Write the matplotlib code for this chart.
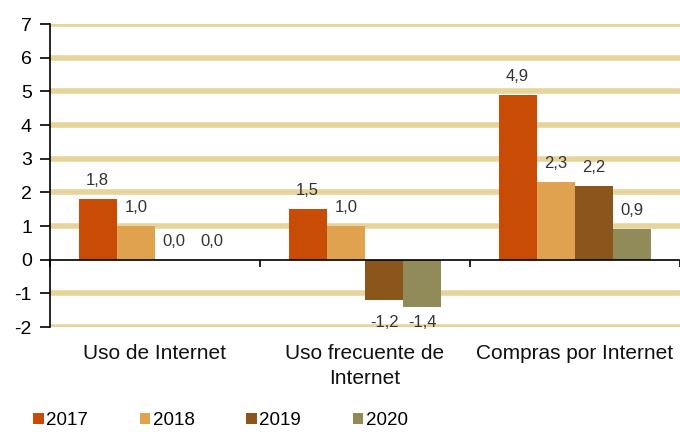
"""
Bar chart: variation in Internet use indicators by year.
"""
import numpy as np
import matplotlib.pyplot as plt

categories = ["Uso de Internet", "Uso frecuente de\nInternet", "Compras por Internet"]
years = ["2017", "2018", "2019", "2020"]
values = {
    "2017": [1.8, 1.5, 4.9],
    "2018": [1.0, 1.0, 2.3],
    "2019": [0.0, -1.2, 2.2],
    "2020": [0.0, -1.4, 0.9],
}
colors = ["#c94c06", "#e0a24e", "#8a561c", "#908b58"]

plt.rcParams["font.family"] = ["Liberation Sans", "DejaVu Sans"]
plt.rcParams["axes.unicode_minus"] = False


def fmt(v):
    return f"{v:.1f}".replace(".", ",")


def main():
    fig = plt.figure(figsize=(6.8, 4.32), dpi=100)
    ax = fig.add_axes([0.0735, 0.243, 0.9265, 0.701])

    x = np.arange(len(categories))
    width = 0.182
    offsets = (np.arange(len(years)) - 1.5) * width

    # lowest value per group, so negative labels share one baseline
    group_min = np.min([values[y] for y in years], axis=0)

    for year, off, col in zip(years, offsets, colors):
        vals = values[year]
        ax.bar(x + off, vals, width=width, color=col, label=year, zorder=3)
        for gi, (xi, v) in enumerate(zip(x + off, vals)):
            if v < 0:
                ax.annotate(fmt(v), (xi, group_min[gi]), xytext=(0, -6),
                            textcoords="offset points", ha="center", va="top",
                            fontsize=12, color="#333333")
            else:
                ax.annotate(fmt(v), (xi, v), xytext=(0, 8), textcoords="offset points",
                            ha="center", va="bottom", fontsize=12, color="#333333")

    ax.set_xlim(-0.5, len(categories) - 0.5)
    ax.set_ylim(-2, 7)
    yticks = list(range(-2, 8))
    ax.set_yticks(yticks)
    for t in yticks:
        if t != 0:
            ax.axhline(t, color="#e6d49a", linewidth=4, zorder=0)

    ax.spines["top"].set_visible(False)
    ax.spines["right"].set_visible(False)
    ax.spines["bottom"].set_position(("data", 0))
    ax.spines["bottom"].set_zorder(4)
    ax.spines["left"].set_linewidth(1.2)
    ax.spines["bottom"].set_linewidth(1.2)

    ax.set_xticks(np.arange(len(categories) + 1) - 0.5)
    ax.set_xticklabels([])
    ax.tick_params(axis="x", length=5, width=1.2, direction="out")
    ax.tick_params(axis="y", length=7, width=1.2, labelsize=14, pad=6)

    for xi, cat in zip(x, categories):
        ax.annotate(cat, (xi, -2), xytext=(0, -12), textcoords="offset points",
                    ha="center", va="top", fontsize=15, color="#111111",
                    linespacing=1.4, annotation_clip=False)

    fig.legend(loc="center left", bbox_to_anchor=(0.024, 0.026), ncol=4, frameon=False,
               fontsize=13.5, handlelength=0.55, handleheight=0.55, handletextpad=0.15,
               columnspacing=2.75)

    fig.savefig("out.png", dpi=100)


if __name__ == "__main__":
    main()
